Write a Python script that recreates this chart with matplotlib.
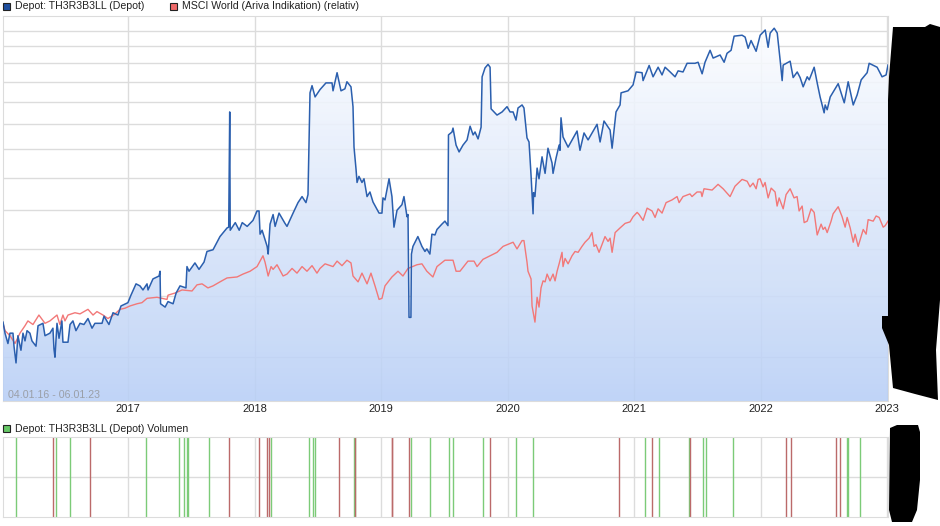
import numpy as np
import matplotlib
matplotlib.use("Agg")
import matplotlib.pyplot as plt
from matplotlib.colors import LinearSegmentedColormap
from matplotlib.patches import Polygon, Rectangle
from matplotlib.path import Path
from matplotlib.ticker import NullFormatter, NullLocator

plt.rcParams['font.family'] = ['Liberation Sans', 'DejaVu Sans']

# depot line, x in decimal years, y on the chart's log scale
depot_years = [
    2016.009, 2016.025, 2016.048, 2016.064, 2016.088, 2016.096, 2016.112, 2016.127, 2016.151, 2016.167,
    2016.183, 2016.199, 2016.222, 2016.238, 2016.270, 2016.286, 2016.325, 2016.341, 2016.380, 2016.404,
    2016.412, 2016.420, 2016.436, 2016.452, 2016.475, 2016.483, 2016.523, 2016.539, 2016.562, 2016.586,
    2016.618, 2016.649, 2016.681, 2016.713, 2016.736, 2016.792, 2016.808, 2016.847, 2016.879, 2016.918,
    2016.942, 2016.997, 2017.021, 2017.061, 2017.092, 2017.116, 2017.148, 2017.156, 2017.195, 2017.243,
    2017.251, 2017.255, 2017.291, 2017.314, 2017.354, 2017.378, 2017.409, 2017.456, 2017.464, 2017.480,
    2017.527, 2017.559, 2017.599, 2017.622, 2017.670, 2017.725, 2017.781, 2017.794, 2017.802, 2017.806,
    2017.846, 2017.877, 2017.901, 2017.940, 2017.986, 2018.018, 2018.034, 2018.042, 2018.058, 2018.098,
    2018.106, 2018.121, 2018.145, 2018.161, 2018.192, 2018.239, 2018.255, 2018.303, 2018.342, 2018.374,
    2018.405, 2018.421, 2018.437, 2018.453, 2018.477, 2018.516, 2018.563, 2018.611, 2018.619, 2018.651,
    2018.682, 2018.713, 2018.729, 2018.761, 2018.777, 2018.785, 2018.801, 2018.809, 2018.824, 2018.848,
    2018.864, 2018.888, 2018.911, 2018.935, 2018.983, 2019.006, 2019.014, 2019.030, 2019.062, 2019.085,
    2019.101, 2019.125, 2019.164, 2019.180, 2019.204, 2019.212, 2019.220, 2019.235, 2019.239, 2019.251,
    2019.290, 2019.322, 2019.346, 2019.361, 2019.385, 2019.401, 2019.425, 2019.441, 2019.480, 2019.504,
    2019.528, 2019.532, 2019.560, 2019.568, 2019.592, 2019.616, 2019.647, 2019.679, 2019.703, 2019.727,
    2019.742, 2019.766, 2019.790, 2019.798, 2019.821, 2019.845, 2019.861, 2019.869, 2019.916, 2019.956,
    2019.995, 2020.019, 2020.043, 2020.066, 2020.082, 2020.114, 2020.129, 2020.153, 2020.169, 2020.185,
    2020.201, 2020.205, 2020.216, 2020.233, 2020.248, 2020.272, 2020.296, 2020.319, 2020.351, 2020.359,
    2020.383, 2020.407, 2020.414, 2020.422, 2020.438, 2020.478, 2020.549, 2020.572, 2020.604, 2020.636,
    2020.707, 2020.731, 2020.762, 2020.810, 2020.826, 2020.857, 2020.889, 2020.897, 2020.952, 2020.992,
    2021.016, 2021.063, 2021.071, 2021.119, 2021.150, 2021.190, 2021.221, 2021.245, 2021.285, 2021.324,
    2021.348, 2021.387, 2021.419, 2021.482, 2021.506, 2021.538, 2021.561, 2021.601, 2021.625, 2021.680,
    2021.712, 2021.735, 2021.767, 2021.791, 2021.854, 2021.878, 2021.902, 2021.925, 2021.965, 2021.997,
    2022.037, 2022.060, 2022.076, 2022.108, 2022.132, 2022.155, 2022.171, 2022.179, 2022.234, 2022.258,
    2022.290, 2022.313, 2022.337, 2022.369, 2022.385, 2022.424, 2022.448, 2022.471, 2022.503, 2022.511,
    2022.527, 2022.551, 2022.614, 2022.662, 2022.693, 2022.733, 2022.764, 2022.796, 2022.843, 2022.859,
    2022.922, 2022.961, 2022.993, 2023.008,
]
depot_values = [
    177, 168, 160, 168, 168, 158, 146, 166, 155, 168,
    162, 170, 168, 162, 158, 174, 176, 166, 168, 172,
    156, 150, 176, 164, 178, 161, 161, 175, 178, 170,
    176, 175, 180, 172, 176, 176, 182, 175, 185, 183,
    191, 194, 201, 212, 210, 206, 212, 206, 217, 220,
    225, 193, 190, 195, 193, 203, 210, 208, 230, 225,
    234, 227, 235, 247, 249, 265, 276, 277, 477, 273,
    283, 273, 283, 278, 286, 299, 299, 268, 273, 253,
    244, 281, 294, 278, 296, 282, 278, 296, 311, 320,
    311, 323, 522, 540, 512, 530, 547, 547, 527, 574,
    527, 532, 550, 537, 489, 404, 364, 342, 352, 342,
    348, 320, 327, 312, 296, 296, 318, 315, 348, 320,
    277, 300, 308, 320, 291, 294, 181, 181, 244, 253,
    265, 253, 247, 250, 244, 268, 267, 274, 281, 285,
    279, 428, 434, 442, 408, 395, 408, 418, 446, 428,
    434, 420, 444, 563, 587, 597, 589, 484, 470, 477,
    489, 477, 477, 459, 486, 493, 486, 422, 414, 354,
    295, 326, 320, 366, 348, 386, 357, 402, 375, 357,
    384, 408, 398, 464, 424, 404, 436, 398, 432, 418,
    450, 414, 457, 438, 402, 477, 493, 522, 527, 542,
    576, 574, 553, 594, 563, 589, 568, 589, 576, 563,
    579, 576, 600, 600, 603, 571, 603, 638, 615, 624,
    603, 629, 638, 682, 685, 679, 644, 668, 635, 685,
    702, 647, 692, 708, 692, 609, 553, 595, 606, 561,
    576, 561, 537, 563, 555, 589, 547, 512, 475, 493,
    482, 512, 545, 498, 550, 493, 517, 555, 574, 600,
    589, 563, 568, 595,
]

msci_years = [
    2016.009, 2016.025, 2016.064, 2016.104, 2016.143, 2016.183, 2016.206, 2016.246, 2016.293, 2016.341,
    2016.380, 2016.436, 2016.459, 2016.483, 2016.499, 2016.523, 2016.578, 2016.618, 2016.681, 2016.721,
    2016.752, 2016.800, 2016.839, 2016.895, 2016.934, 2016.974, 2017.013, 2017.069, 2017.108, 2017.148,
    2017.227, 2017.306, 2017.314, 2017.369, 2017.425, 2017.504, 2017.543, 2017.583, 2017.630, 2017.670,
    2017.725, 2017.781, 2017.860, 2017.907, 2017.963, 2018.018, 2018.065, 2018.081, 2018.106, 2018.129,
    2018.145, 2018.176, 2018.224, 2018.255, 2018.295, 2018.334, 2018.374, 2018.413, 2018.453, 2018.492,
    2018.516, 2018.556, 2018.619, 2018.651, 2018.690, 2018.729, 2018.761, 2018.777, 2018.817, 2018.848,
    2018.888, 2018.919, 2018.951, 2018.983, 2019.006, 2019.030, 2019.085, 2019.133, 2019.172, 2019.212,
    2019.283, 2019.322, 2019.361, 2019.409, 2019.441, 2019.504, 2019.568, 2019.592, 2019.623, 2019.686,
    2019.734, 2019.758, 2019.805, 2019.916, 2019.964, 2020.043, 2020.074, 2020.114, 2020.129, 2020.153,
    2020.161, 2020.185, 2020.193, 2020.216, 2020.233, 2020.248, 2020.264, 2020.280, 2020.296, 2020.312,
    2020.335, 2020.359, 2020.375, 2020.391, 2020.407, 2020.430, 2020.438, 2020.454, 2020.478, 2020.509,
    2020.533, 2020.557, 2020.588, 2020.612, 2020.644, 2020.667, 2020.683, 2020.699, 2020.723, 2020.770,
    2020.794, 2020.810, 2020.826, 2020.850, 2020.889, 2020.929, 2020.968, 2020.992, 2021.024, 2021.040,
    2021.071, 2021.103, 2021.142, 2021.166, 2021.190, 2021.221, 2021.253, 2021.300, 2021.340, 2021.356,
    2021.387, 2021.442, 2021.458, 2021.498, 2021.529, 2021.537, 2021.553, 2021.617, 2021.664, 2021.704,
    2021.759, 2021.798, 2021.854, 2021.894, 2021.917, 2021.941, 2021.965, 2021.981, 2021.997, 2022.020,
    2022.036, 2022.060, 2022.084, 2022.115, 2022.131, 2022.147, 2022.179, 2022.202, 2022.234, 2022.265,
    2022.289, 2022.305, 2022.329, 2022.345, 2022.369, 2022.400, 2022.424, 2022.448, 2022.479, 2022.495,
    2022.510, 2022.527, 2022.558, 2022.574, 2022.614, 2022.645, 2022.669, 2022.685, 2022.709, 2022.733,
    2022.748, 2022.772, 2022.812, 2022.835, 2022.851, 2022.891, 2022.914, 2022.938, 2022.970, 2022.986,
    2023.008,
]
msci_values = [
    176, 170, 166, 160, 168, 174, 178, 175, 183, 176,
    178, 183, 175, 183, 178, 183, 185, 184, 188, 183,
    186, 183, 180, 184, 188, 189, 191, 193, 194, 198,
    199, 197, 201, 203, 206, 205, 211, 212, 208, 210,
    214, 218, 219, 222, 225, 230, 242, 235, 220, 230,
    227, 232, 220, 222, 228, 223, 230, 225, 231, 223,
    228, 233, 230, 236, 231, 237, 234, 220, 214, 223,
    212, 223, 210, 197, 198, 210, 219, 225, 220, 228,
    232, 233, 225, 219, 230, 237, 237, 225, 225, 236,
    236, 230, 238, 246, 253, 258, 250, 260, 260, 235,
    225, 217, 191, 177, 199, 190, 208, 215, 214, 222,
    215, 222, 215, 225, 233, 246, 230, 239, 233, 242,
    247, 246, 253, 258, 263, 270, 253, 255, 246, 265,
    259, 263, 246, 270, 276, 282, 284, 291, 297, 294,
    286, 303, 299, 290, 302, 296, 311, 315, 320, 311,
    320, 324, 320, 327, 327, 320, 332, 330, 339, 332,
    320, 336, 347, 344, 335, 341, 332, 347, 348, 335,
    342, 318, 333, 327, 306, 318, 302, 323, 332, 318,
    320, 299, 306, 283, 285, 302, 297, 267, 281, 274,
    277, 270, 285, 295, 305, 291, 277, 290, 276, 258,
    268, 253, 274, 268, 287, 285, 292, 290, 277, 279,
    285,
]

# dates of the volume bars, the chart has no values for their height
volume_buy_dates = [
    2016.114, 2016.430, 2016.541, 2017.142, 2017.403, 2017.438, 2017.466, 2017.474, 2017.636, 2018.129,
    2018.432, 2018.463, 2018.479, 2018.783, 2018.789, 2019.238, 2019.389, 2019.534, 2019.566, 2019.808,
    2020.069, 2020.203, 2021.089, 2021.200, 2021.437, 2021.548, 2021.572, 2021.785, 2022.682, 2022.688,
    2022.790,
]
volume_sell_dates = [
    2016.407, 2016.699, 2017.799, 2018.036, 2018.099, 2018.115, 2018.669, 2018.793, 2019.083, 2019.088,
    2019.222, 2019.863, 2020.884, 2021.145, 2021.445, 2022.205, 2022.244, 2022.600, 2022.632,
]

year_ticks = [2017, 2018, 2019, 2020, 2021, 2022, 2023]
grid_levels = [150, 200, 250, 300, 350, 400, 450, 500, 550, 600, 650, 700]

W, H = 940, 526
GRID = '#dcdcdc'


def px_rect(left, top, right, bottom):
    return [left / W, 1 - bottom / H, (right - left) / W, (bottom - top) / H]


def px_points(points):
    return [(x / W, 1 - y / H) for x, y in points]


fig = plt.figure(figsize=(W / 100, H / 100), dpi=100)

# main chart
ax = fig.add_axes(px_rect(3, 16, 888, 401))
ax.set_yscale('log')
ax.set_xticks(year_ticks)
ax.set_yticks(grid_levels)
ax.yaxis.set_major_formatter(NullFormatter())
ax.yaxis.set_minor_locator(NullLocator())
ax.tick_params(axis='both', length=0)
ax.tick_params(axis='x', labelsize=8, pad=2, labelcolor='#222222')
ax.grid(True, color=GRID, linewidth=1)
ax.set_axisbelow(True)
for side in ax.spines.values():
    side.set_color(GRID)
    side.set_zorder(1)

# gradient under the depot line
cmap = LinearSegmentedColormap.from_list('depot', ['#ffffff', '#b8cff6'])
grad = np.linspace(0, 1, 256).reshape(-1, 1)
im = ax.imshow(grad, cmap=cmap, extent=(0, 1, 0, 1), transform=ax.transAxes,
               aspect='auto', origin='upper', alpha=0.88, zorder=2)
verts = list(zip(depot_years, depot_values)) + [(depot_years[-1], 100), (depot_years[0], 100)]
im.set_clip_path(Path(verts + [verts[0]], closed=True), ax.transData)
ax.set_xlim(2016.009, 2023.008)
ax.set_ylim(122, 750)

ax.plot(msci_years, msci_values, color='#f27878', linewidth=1.0, zorder=3)
ax.plot(depot_years, depot_values, color='#2b5fae', linewidth=1.1, zorder=4)
fig.text(8 / W, 1 - 395 / H, '04.01.16 - 06.01.23', fontsize=7.7, color='#9a9fa8',
         va='center', ha='left', zorder=5)

# volume panel
vol = fig.add_axes(px_rect(3, 437, 888, 516.5))
vol.set_xlim(2016.009, 2023.008)
vol.set_ylim(0, 2)
vol.set_xticks(year_ticks)
vol.set_yticks([1])
vol.set_xticklabels([])
vol.set_yticklabels([])
vol.tick_params(axis='both', length=0)
vol.grid(True, color=GRID, linewidth=1)
vol.set_axisbelow(True)
for side in vol.spines.values():
    side.set_color(GRID)
vol.vlines(volume_buy_dates, 0, 2, color='#7ccb78', linewidth=1)
vol.vlines(volume_sell_dates, 0, 2, color='#bb6a6a', linewidth=1)

# legends
legend_items = [
    (3, 6, '#1f4f9f', 'Depot: TH3R3B3LL (Depot)'),
    (169.5, 6, '#f06a6a', 'MSCI World (Ariva Indikation) (relativ)'),
    (3, 428.5, '#66c866', 'Depot: TH3R3B3LL (Depot) Volumen'),
]
for left, mid, colour, label in legend_items:
    fig.add_artist(Rectangle((left / W, 1 - (mid + 3.5) / H), 7 / W, 7 / H, transform=fig.transFigure,
                             facecolor=colour, edgecolor='#222222', linewidth=0.8))
    fig.text((left + 12) / W, 1 - mid / H, label, fontsize=7.6, color='#222222', va='center', ha='left')

# the black scribbles covering the right side of the screenshot
upper_blob = [(893, 27), (925, 27), (930, 24), (940, 27), (940, 300), (936, 350), (938, 400),
              (915, 394), (893, 388), (889, 345), (882, 328), (882, 316), (888, 316), (888, 100), (889, 77)]
lower_blob = [(890, 428), (897, 425), (918, 425), (920, 432), (920, 480), (917, 510), (912, 522),
              (892, 522), (889, 510)]
for blob in (upper_blob, lower_blob):
    fig.add_artist(Polygon(px_points(blob), closed=True, transform=fig.transFigure,
                           facecolor='black', edgecolor='none', zorder=10))

fig.savefig('out.png', dpi=100)
